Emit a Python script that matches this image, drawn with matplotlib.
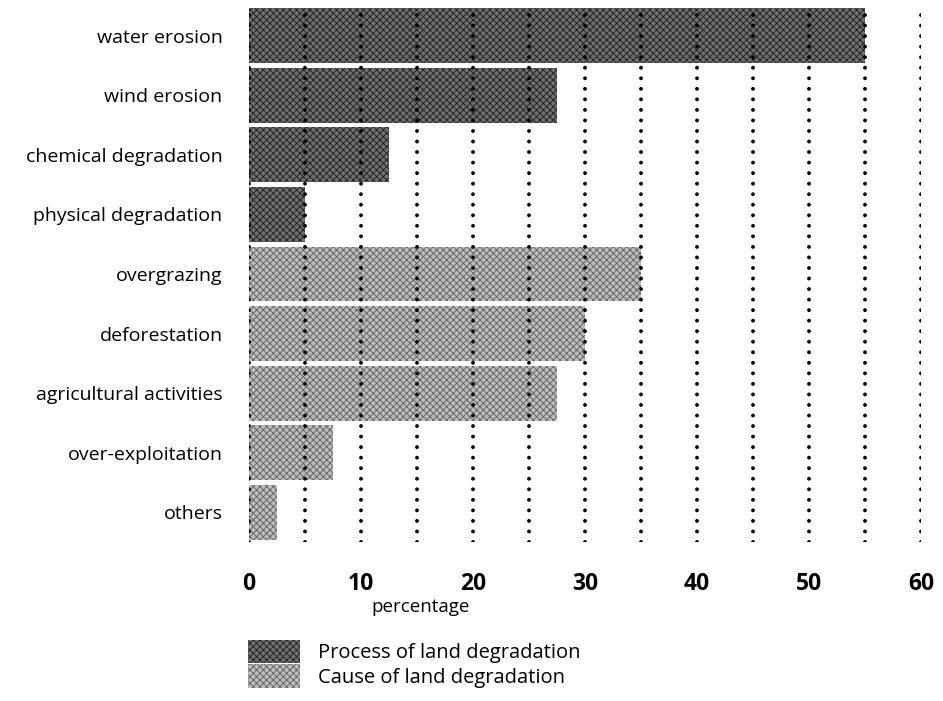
import matplotlib
matplotlib.use("Agg")
import matplotlib.pyplot as plt
from matplotlib.patches import Patch

# Land degradation in percent
categories = ["water erosion", "wind erosion", "chemical degradation",
              "physical degradation", "overgrazing", "deforestation",
              "agricultural activities", "over-exploitation", "others"]
values = [55, 27.5, 12.5, 5, 35, 30, 27.5, 7.5, 2.5]
groups = ["process", "process", "process", "process",
          "cause", "cause", "cause", "cause", "cause"]
xticks = [0, 10, 20, 30, 40, 50, 60]
legend_labels = ["Process of land degradation", "Cause of land degradation"]

styles = {
    "process": dict(facecolor="#6e6e6e", edgecolor="#1e1e1e"),
    "cause": dict(facecolor="#bcbcbc", edgecolor="#5e5e5e"),
}

plt.rcParams["font.family"] = ["Open Sans", "DejaVu Sans"]
plt.rcParams["hatch.linewidth"] = 0.6

fig = plt.figure(figsize=(9.43, 7.01), dpi=100)
ax = fig.add_axes([249 / 943, 1 - 542 / 701, 672 / 943, 536 / 701])

for i, (v, g) in enumerate(zip(values, groups)):
    ax.barh(i, v, height=0.92, hatch="xxxxx", linewidth=0, zorder=2, **styles[g])

# dotted vertical grid every 5 units, drawn over the bars
for x in range(0, 61, 5):
    ax.axvline(x, color="black", linewidth=2.8, linestyle=(0, (0.01, 2.7)),
               dash_capstyle="round", zorder=3)

ax.set_xlim(0, 60)
ax.set_ylim(8.5, -0.5)
ax.set_yticks(range(len(categories)))
ax.set_yticklabels(categories, fontsize=14)
ax.set_xticks(xticks)
ax.set_xticklabels([str(t) for t in xticks], fontsize=16.5, fontweight="bold")
ax.tick_params(length=0)
ax.tick_params(axis="y", pad=19)
ax.tick_params(axis="x", pad=21.5)
for s in ax.spines.values():
    s.set_visible(False)
ax.set_xlabel("percentage", fontsize=13.5)
ax.xaxis.set_label_coords(0.256, -0.105)

handles = [Patch(hatch="xxxxx", linewidth=0, **styles["process"]),
           Patch(hatch="xxxxx", linewidth=0, **styles["cause"])]
fig.legend(handles, legend_labels, loc="upper left",
           bbox_to_anchor=(248 / 943, 1 - 640 / 701), frameon=False,
           fontsize=14.5, handlelength=2.6, handleheight=1.4,
           handletextpad=0.9, labelspacing=0.05, borderpad=0, borderaxespad=0)

fig.savefig("out.png", dpi=100)
